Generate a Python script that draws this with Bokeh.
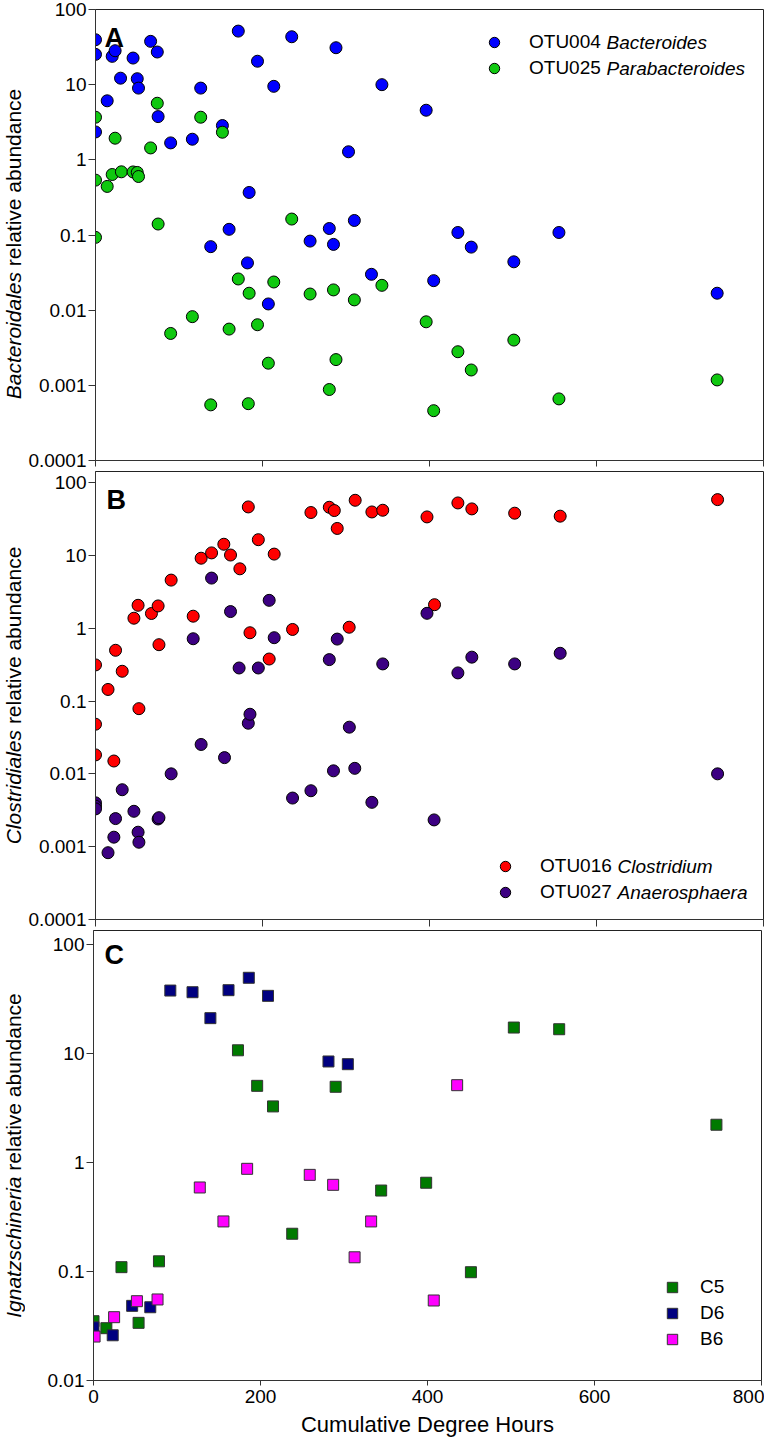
import math
from bokeh.plotting import figure
from bokeh.models import (FixedTicker, CustomJSTickFormatter, Legend, LegendItem, Label,
                          CustomLabelingPolicy)
from bokeh.layouts import column, row
from bokeh.embed import file_html
from bokeh.resources import INLINE
from bokeh.core.properties import value

# ---------------- data ----------------
x_ticks = [0, 200, 400, 600, 800]
y_ticks_ab = [0.0001, 0.001, 0.01, 0.1, 1, 10, 100]
y_ticks_c = [0.01, 0.1, 1, 10, 100]

# Panel A
otu004_x = [0, 0, 0, 14, 20, 23.5, 30, 45, 50, 51.5, 66, 74, 75, 90, 116, 126, 138, 152, 160, 171, 182,
            184, 194, 207, 213.5, 235, 257, 280, 285, 288, 303, 310, 330.5, 343, 396, 405, 434, 450, 501,
            555, 744.5]
otu004_y = [39.6, 25.3, 2.35, 6.1, 23.8, 28.3, 12.2, 22.6, 12.0, 9.0, 37.7, 27.2, 3.76, 1.68, 1.88, 9.0,
            0.070, 2.86, 0.119, 51.6, 0.0425, 0.368, 20.5, 0.0121, 9.5, 43.4, 0.083, 0.122, 0.075, 31.0,
            1.28, 0.156, 0.030, 10.0, 4.57, 0.0247, 0.108, 0.069, 0.044, 0.108, 0.0168]
otu025_x = [0, 0, 0, 14, 20, 23.5, 31, 45, 50, 51.5, 66, 74, 75, 90, 116, 126, 138, 152, 160, 171, 183,
            184, 194, 207, 213.5, 235, 257, 280, 285, 288, 310, 343, 396, 405, 434, 450, 501, 555, 744.5]
otu025_y = [3.69, 0.537, 0.093, 0.443, 0.638, 1.94, 0.693, 0.69, 0.68, 0.60, 1.44, 5.66, 0.14, 0.0049,
            0.0082, 3.69, 0.00055, 2.33, 0.0056, 0.026, 0.00057, 0.0168, 0.0064, 0.00197, 0.0237, 0.163,
            0.0164, 0.00088, 0.0186, 0.0022, 0.0137, 0.0214, 0.0070, 0.00046, 0.0028, 0.0016, 0.0040,
            0.00066, 0.00118]

# Panel B
otu016_x = [0, 0, 0, 15, 22, 24, 32, 46, 51, 52, 67, 75, 76, 90.6, 117, 126.5, 139, 153.7, 161.7, 172.9,
            183, 185, 195, 208, 214, 236, 258, 280, 286, 289.5, 303.8, 311, 331, 344, 397, 406, 434,
            450.7, 502, 556.5, 745]
otu016_y = [0.313, 0.048, 0.0182, 0.144, 0.0150, 0.497, 0.256, 1.37, 2.06, 0.0785, 1.59, 2.02, 0.593,
            4.57, 1.46, 9.13, 10.8, 14.2, 10.1, 6.53, 46.2, 0.865, 16.4, 0.377, 10.4, 0.96, 38.7, 45.7,
            41.2, 23.4, 1.03, 57.0, 39.4, 41.6, 33.7, 2.1, 52.4, 43.4, 37.9, 34.5, 58.2]
otu027_x = [0, 0, 0, 15, 22, 24, 32, 46, 51, 52, 75, 76, 90.6, 117, 126.5, 139, 154.5, 161.7, 172, 183,
            185, 195, 208, 214, 236, 258, 280, 285, 289.5, 304, 310.5, 331, 344, 397, 405.5, 434, 450.7,
            502, 556.5, 745]
otu027_y = [0.0040, 0.0036, 0.0033, 0.000826, 0.00135, 0.00243, 0.00605, 0.00306, 0.00158, 0.00115,
            0.0024, 0.0025, 0.0100, 0.716, 0.0253, 4.87, 0.0167, 1.69, 0.284, 0.0495, 0.0658, 0.284,
            2.41, 0.74, 0.00465, 0.00586, 0.37, 0.011, 0.708, 0.0437, 0.0119, 0.00406, 0.323, 1.6,
            0.00233, 0.243, 0.40, 0.323, 0.452, 0.0100]

# Panel C
c5_x = [0, 15.4, 33.5, 54, 78.4, 173, 196, 215, 238, 290, 344.5, 398.4, 452, 503.4, 557.7, 746]
c5_y = [0.035, 0.0302, 0.1096, 0.0338, 0.124, 10.7, 5.05, 3.27, 0.222, 4.95, 0.553, 0.652, 0.0985,
        17.3, 16.7, 2.22]
d6_x = [0, 23, 46.3, 68, 92, 118.6, 140, 161.7, 186, 209, 281.4, 304.6]
d6_y = [0.0308, 0.026, 0.0484, 0.047, 37.8, 36.5, 21.1, 38.1, 49.5, 33.8, 8.45, 7.98]
b6_x = [1.3, 24.7, 52, 76.7, 127.3, 155.6, 184, 259, 287, 312.7, 332.5, 407.5, 435.5]
b6_y = [0.0253, 0.0381, 0.0534, 0.0554, 0.59, 0.288, 0.875, 0.77, 0.624, 0.135, 0.288, 0.0542, 5.12]

# ---------------- layout ----------------
FONT = "Liberation Sans"
PAGE = 0
WL = 25                       # width of the strip holding the y titles
LEFT, FW, RIGHT = 68, 668, 3  # main figure borders / frame width
X0, X1 = 0, 800
TICK_FS = "19px"
YLAB_FS = 21
XLAB_FS = "22px"
LEG_FS = 19

A_TB, A_FH, A_BB = 9, 451, 11
B_FH, B_BB = 448, 11
C_FH, C_BB = 450, 62
A_Y = (0.0001, 100)
B_Y = (0.0001, 141.6)
C_Y = (0.01, 134.4)

A_FIG_TOP = PAGE
A_TOP = A_FIG_TOP + A_TB
B_FIG_TOP = A_TOP + A_FH + A_BB
B_TOP = B_FIG_TOP
C_FIG_TOP = B_TOP + B_FH + B_BB
C_TOP = C_FIG_TOP
FRAME_LEFT = PAGE + WL + LEFT

# Arial / Liberation Sans advance widths (em)
W = {' ': .278, 'a': .556, 'b': .556, 'c': .5, 'd': .556, 'e': .556, 'g': .556, 'h': .556, 'i': .222,
     'l': .222, 'n': .556, 'o': .556, 'r': .333, 's': .5, 't': .278, 'u': .556, 'v': .5, 'z': .5,
     'B': .667, 'C': .722, 'I': .278, 'O': .778, 'T': .611, 'U': .722}


def tw(s, fs):
    return sum(W.get(ch, .556) for ch in s) * fs


def xd(page_x):
    return X0 + (page_x - FRAME_LEFT) / FW * (X1 - X0)


def yd(page_y, top, fh, yr):
    l0, l1 = math.log10(yr[0]), math.log10(yr[1])
    return 10 ** (l1 - (page_y - top) / fh * (l1 - l0))


def make_fig(fh, yr, yticks, top_border, bottom_border, show_x, tick_out):
    p = figure(frame_width=FW, frame_height=fh, x_range=(X0, X1), y_range=yr, y_axis_type="log",
               output_backend="svg", toolbar_location=None, min_border_left=LEFT,
               min_border_right=RIGHT, min_border_top=top_border, min_border_bottom=bottom_border)
    p.grid.visible = False
    p.outline_line_color = "#222222"
    p.outline_line_width = 1
    p.background_fill_color = "white"
    p.border_fill_color = "white"
    ya = p.yaxis[0]
    ya.ticker = FixedTicker(ticks=yticks)
    ya.formatter = CustomJSTickFormatter(code="return tick.toString();")
    ya.major_tick_out = 7
    ya.major_tick_in = 0
    ya.minor_tick_line_color = None
    ya.axis_line_color = "#333333"
    ya.major_tick_line_color = "#333333"
    ya.major_label_text_font = FONT
    ya.major_label_text_font_size = TICK_FS
    ya.major_label_text_color = "black"
    ya.major_label_standoff = 2
    xa = p.xaxis[0]
    xa.ticker = FixedTicker(ticks=x_ticks)
    xa.minor_tick_line_color = None
    xa.axis_line_color = "#333333"
    xa.major_tick_line_color = "#333333"
    xa.major_tick_in = 0
    xa.major_tick_out = tick_out
    if show_x:
        xa.major_label_text_font = FONT
        xa.major_label_text_font_size = TICK_FS
        xa.major_label_text_color = "black"
        xa.major_label_standoff = 4
        xa.axis_label = "Cumulative Degree Hours"
        xa.axis_label_text_font = FONT
        xa.axis_label_text_font_size = XLAB_FS
        xa.axis_label_text_font_style = "normal"
        xa.axis_label_text_color = "black"
        xa.axis_label_standoff = 6
    else:
        xa.major_label_text_font_size = "0px"
        xa.major_label_standoff = 0
        xa.major_label_policy = CustomLabelingPolicy(
            code="const all = Array.from(indices); for (const i of all) { indices.unset(i) } return indices;")
    return p


def title_strip(fig_h, fig_top, frame_top, fh, italic, rest):
    lf = figure(frame_width=WL, frame_height=fig_h, x_range=(0, WL), y_range=(0, fig_h),
                x_axis_location=None, y_axis_location=None, min_border=0,
                toolbar_location=None, output_backend="svg")
    lf.grid.visible = False
    lf.outline_line_color = None
    lf.background_fill_color = "white"
    lf.border_fill_color = "white"
    center = frame_top + fh / 2.0
    total = tw(italic + " " + rest, YLAB_FS)
    j = center + total / 2.0 - tw(italic, YLAB_FS)

    def ly(py):
        return fig_h - (py - fig_top)

    lf.add_layout(Label(x=13, y=ly(j), text=italic, angle=math.pi / 2,
                        text_align="right", text_baseline="middle", text_font=FONT,
                        text_font_size="%dpx" % YLAB_FS, text_font_style="italic", text_color="black"))
    lf.add_layout(Label(x=13, y=ly(j - tw(" ", YLAB_FS)), text=rest, angle=math.pi / 2,
                        text_align="left", text_baseline="middle", text_font=FONT,
                        text_font_size="%dpx" % YLAB_FS, text_color="black"))
    return lf


def letter(p, t, page_x, page_y, top, fh, yr):
    p.add_layout(Label(x=xd(page_x), y=yd(page_y, top, fh, yr), text=t, text_font=FONT,
                       text_font_size="27px", text_font_style="bold", text_baseline="alphabetic",
                       text_align="left", text_color="black"))


def legend(p, items, marker_px, first_py, top, fh, standoff):
    n = len(items)
    left = marker_px - FRAME_LEFT - 15
    item_top = first_py - 13 - top
    loc_y = fh - item_top - 26 * n
    leg = Legend(items=[LegendItem(label=value(lbl), renderers=[r]) for lbl, r in items],
                 location=(left, loc_y), orientation="vertical", glyph_width=30, glyph_height=26,
                 label_height=26, label_standoff=standoff, padding=0, margin=0, spacing=0,
                 border_line_alpha=0, background_fill_alpha=0, label_text_font=FONT,
                 label_text_font_size="%dpx" % LEG_FS, label_text_color="black")
    p.add_layout(leg)


def genus(p, text, label_start_px, word, py, top, fh, yr):
    p.add_layout(Label(x=xd(label_start_px + tw(word + " ", LEG_FS)), y=yd(py, top, fh, yr), text=text,
                       text_font=FONT, text_font_size="%dpx" % LEG_FS, text_font_style="italic",
                       text_baseline="middle", text_align="left", text_color="black"))


# ---------------- Panel A ----------------
pa = make_fig(A_FH, A_Y, y_ticks_ab, A_TB, A_BB, False, 6)
rb = pa.scatter(otu004_x, otu004_y, marker="circle", size=12, fill_color="#0000FF", line_color="black",
                line_width=1)
rg = pa.scatter(otu025_x, otu025_y, marker="circle", size=12, fill_color="#10C810", line_color="black",
                line_width=1)
legend(pa, [("OTU004", rb), ("OTU025", rg)], 492, 42, A_TOP, A_FH, 20)
genus(pa, "Bacteroides", 527, "OTU004", 42, A_TOP, A_FH, A_Y)
genus(pa, "Parabacteroides", 527, "OTU025", 68, A_TOP, A_FH, A_Y)
letter(pa, "A", 102, 37, A_TOP, A_FH, A_Y)
la = title_strip(A_TB + A_FH + A_BB, A_FIG_TOP, A_TOP, A_FH, "Bacteroidales", "relative abundance")

# ---------------- Panel B ----------------
pb = make_fig(B_FH, B_Y, y_ticks_ab, 0, B_BB, False, 7)
rr = pb.scatter(otu016_x, otu016_y, marker="circle", size=12, fill_color="#FF0000", line_color="black",
                line_width=1)
rp = pb.scatter(otu027_x, otu027_y, marker="circle", size=12, fill_color="#3C0082", line_color="black",
                line_width=1)
legend(pb, [("OTU016", rr), ("OTU027", rp)], 503, 866, B_TOP, B_FH, 20)
genus(pb, "Clostridium", 538, "OTU016", 866, B_TOP, B_FH, B_Y)
genus(pb, "Anaerosphaera", 538, "OTU027", 892, B_TOP, B_FH, B_Y)
letter(pb, "B", 104, 499, B_TOP, B_FH, B_Y)
lb = title_strip(B_FH + B_BB, B_FIG_TOP, B_TOP, B_FH, "Clostridiales", "relative abundance")

# ---------------- Panel C ----------------
pc = make_fig(C_FH, C_Y, y_ticks_c, 0, C_BB, True, 5)
r5 = pc.scatter(c5_x, c5_y, marker="square", size=11, fill_color="#007A00", line_color="#333333",
                line_width=1)
r6 = pc.scatter(d6_x, d6_y, marker="square", size=11, fill_color="#000080", line_color="#333333",
                line_width=1)
rb6 = pc.scatter(b6_x, b6_y, marker="square", size=11, fill_color="#FF00FF", line_color="#333333",
                 line_width=1)
legend(pc, [("C5", r5), ("D6", r6), ("B6", rb6)], 672, 1287, C_TOP, C_FH, 13)
letter(pc, "C", 104, 954, C_TOP, C_FH, C_Y)
lc = title_strip(C_FH + C_BB, C_FIG_TOP, C_TOP, C_FH, "Ignatzschineria", "relative abundance")

layout = column(row(la, pa, spacing=0), row(lb, pb, spacing=0), row(lc, pc, spacing=0), spacing=0)
open("out.html", "w").write(file_html(layout, INLINE))
